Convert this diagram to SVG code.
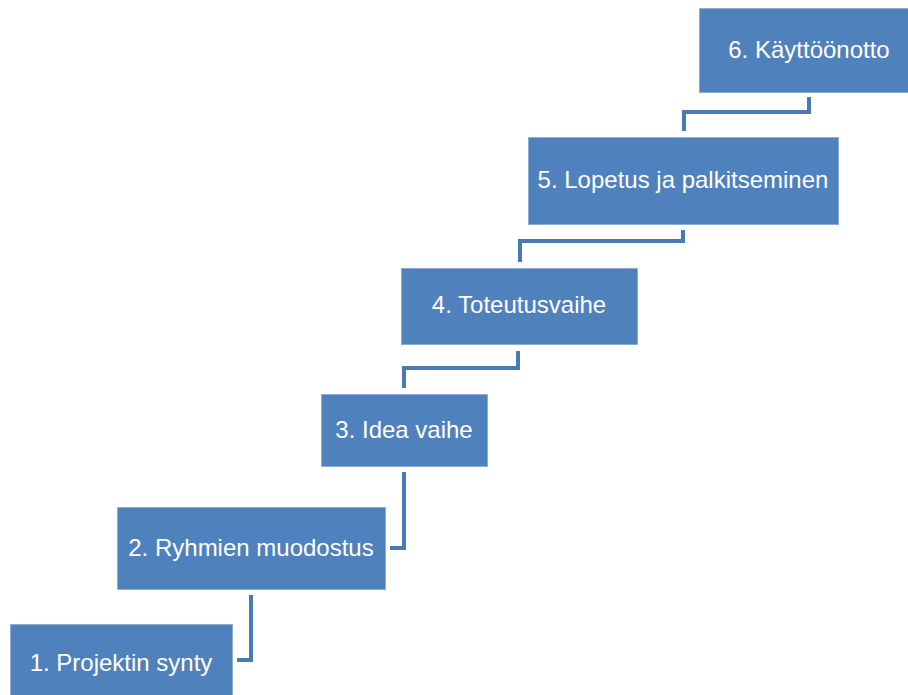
<svg xmlns="http://www.w3.org/2000/svg" width="908" height="695" viewBox="0 0 908 695">
<style>
.box{fill:#4F81BD;stroke:#8EADD6;stroke-width:1}
.lbl{fill:#FFFFFF;font-family:"Liberation Sans",Arial,sans-serif;font-size:24px;text-anchor:middle}
.con{fill:none;stroke:#4A7AB4;stroke-width:4;stroke-linejoin:miter}
</style>
<rect width="908" height="695" fill="#FFFFFF"/>
<g id="connectors">
<path class="con" d="M237 660 H251 V595"/>
<path class="con" d="M390 548 H404 V472"/>
<path class="con" d="M518 351 V368 H404 V388"/>
<path class="con" d="M683 230 V241 H520 V262"/>
<path class="con" d="M809 97 V112 H684 V131"/>
</g>
<g id="node1"><rect class="box" x="10.5" y="624.5" width="222" height="80"/><text class="lbl" x="121" y="671">1. Projektin synty</text></g>
<g id="node2"><rect class="box" x="117.5" y="507.5" width="268" height="82"/><text class="lbl" x="251" y="556">2. Ryhmien muodostus</text></g>
<g id="node3"><rect class="box" x="321.5" y="394.5" width="166" height="72"/><text class="lbl" x="404" y="438">3. Idea vaihe</text></g>
<g id="node4"><rect class="box" x="401.5" y="268.5" width="236" height="76"/><text class="lbl" x="519" y="313">4. Toteutusvaihe</text></g>
<g id="node5"><rect class="box" x="528.5" y="137.5" width="310" height="87"/><text class="lbl" x="683" y="188">5. Lopetus ja palkitseminen</text></g>
<g id="node6"><rect class="box" x="699.5" y="8.5" width="220" height="84"/><text class="lbl" x="809" y="58">6. Käyttöönotto</text></g>
</svg>
